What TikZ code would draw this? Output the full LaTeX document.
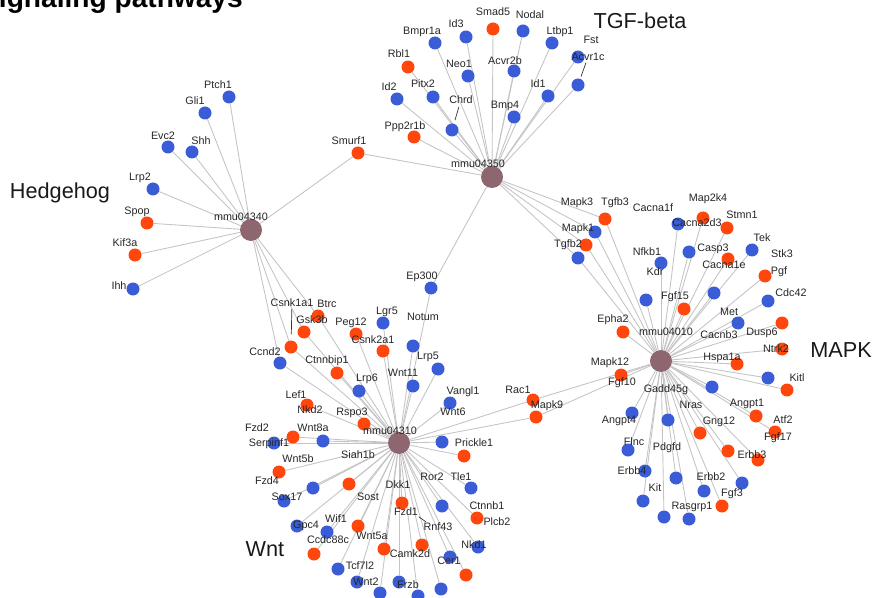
\documentclass[tikz,border=0pt]{standalone}
\usepackage{fontspec}
\setmainfont{Liberation Sans}
\usetikzlibrary{backgrounds}

\definecolor{bl}{RGB}{58,92,214}
\definecolor{rd}{RGB}{255,70,12}
\definecolor{hubcol}{RGB}{142,102,112}
\definecolor{edgegray}{RGB}{196,196,196}

\tikzset{
  hub/.style={circle, fill=hubcol, minimum size=0.66cm, inner sep=0pt},
  gene/.style={circle, minimum size=0.39cm, inner sep=0pt},
  lbl/.style={font=\fontsize{9.2}{10}\selectfont, text=black!85, inner sep=0.5pt},
  pathway/.style={font=\fontsize{18.5}{20}\selectfont, text=black!90, inner sep=0pt},
  headline/.style={font=\fontsize{24}{26}\bfseries\selectfont, inner sep=0pt, anchor=base west},
  link/.style={draw=edgegray, line width=0.75pt},
  lead/.style={draw=black!80, line width=0.6pt}
}

% name/x/y/colour/label x/label y
\def\hedgehog{Ptch1/229/97/bl/218/85, Gli1/205/113/bl/195/101, Evc2/168/147/bl/163/136,
  Shh/192/152/bl/201/141, Lrp2/153/189/bl/140/178, Spop/147/223/rd/137/212,
  Kif3a/135/255/rd/125/243, Ihh/133/289/bl/119/286, Smurf1/358/153/rd/349/141}
\def\tgfbeta{Smad5/493/29/rd/493/12, Nodal/523/31/bl/530/15, Id3/466/37/bl/456/24,
  Bmpr1a/435/43/bl/422/32, Ltbp1/552/43/bl/560/32, Fst/578/57/bl/591/40,
  Acvr1c/578/85/bl/588/57, Rbl1/408/67/rd/399/54, Neo1/468/76/bl/459/64,
  Acvr2b/514/71/bl/505/61, Id2/397/99/bl/389/87, Pitx2/433/97/bl/423/84,
  Id1/548/96/bl/538/84, Chrd/452/130/bl/461/100, Bmp4/514/117/bl/505/106,
  Ppp2r1b/414/137/rd/405/127, Ep300/431/288/bl/422/277}
\def\mapk{Tgfb3/605/219/rd/615/203, Mapk1/595/232/bl/578/229, Tgfb2/586/245/rd/568/245,
  Mapk3/578/258/bl/577/203, Cacna1f/678/224/bl/653/208, Map2k4/703/218/rd/708/199,
  Stmn1/727/228/rd/742/215, Nfkb1/661/263/bl/647/252, Cacna2d3/689/252/bl/697/223,
  Casp3/728/259/rd/713/249, Tek/752/250/bl/762/238, Pgf/765/276/rd/779/272,
  Cacna1e/714/293/bl/724/265, Kdr/646/300/bl/655/272, Fgf15/684/309/rd/675/297,
  Cdc42/768/301/bl/791/293, Epha2/623/332/rd/613/320, Met/738/323/bl/729/312,
  Dusp6/782/323/rd/762/333, Ntrk2/782/349/rd/776/349, Hspa1a/737/364/rd/722/358,
  Mapk12/621/375/rd/610/363, Cacnb3/712/387/bl/719/335, Stk3/768/378/bl/782/254,
  Kitl/787/390/rd/797/378, Angpt4/632/413/bl/619/421, Gadd45g/668/420/bl/666/390,
  Angpt1/756/416/rd/747/404, Gng12/700/433/rd/719/422, Atf2/775/432/rd/783/420,
  Flnc/628/450/bl/634/442, Fgf17/728/451/rd/778/438, Erbb3/758/460/rd/752/455,
  Erbb4/645/471/bl/632/471, Pdgfd/676/478/bl/667/448, Nras/742/483/bl/691/405,
  Erbb2/704/491/bl/711/477, Kit/643/501/bl/655/488, Fgf3/722/506/rd/732/494,
  Fgf10/664/517/bl/622/383, Rasgrp1/689/519/bl/692/507,
  Rac1/533/400/rd/518/390, Mapk9/536/417/rd/547/406}
\def\wnt{Btrc/318/316/rd/327/304, Gsk3b/304/332/rd/312/320, Csnk1a1/291/347/rd/292/303,
  Ccnd2/280/363/bl/265/352, Ctnnbip1/337/373/rd/327/361, Peg12/356/334/rd/351/323,
  Csnk2a1/383/351/rd/373/340, Lgr5/383/323/bl/387/312, Lrp6/359/391/bl/367/379,
  Wnt11/413/386/bl/403/373, Notum/413/346/bl/423/317, Lrp5/438/369/bl/428/357,
  Lef1/307/405/rd/296/395, Rspo3/364/424/rd/352/413, Nkd2/293/437/rd/310/410,
  Serpinf1/274/443/bl/269/444, Wnt8a/323/441/bl/313/428, Fzd4/279/472/rd/267/481,
  Siah1b/349/484/rd/358/455, Wnt5b/313/488/bl/298/459, Sox17/284/501/bl/287/497,
  Dkk1/402/503/rd/398/485, Gpc4/297/526/bl/306/526, Wif1/327/532/bl/336/519,
  Sost/358/526/rd/368/497, Wnt5a/384/549/rd/372/536, Fzd1/422/545/rd/406/512,
  Ccdc88c/314/554/rd/328/540, Tcf7l2/338/569/bl/360/566, Wnt2/357/582/bl/366/582,
  Frzb/399/582/bl/408/585, Fzd2/380/593/bl/257/428, Camk2d/418/596/bl/410/554,
  Vangl1/450/403/bl/463/392, Wnt6/442/442/bl/453/412, Prickle1/464/456/rd/474/443,
  Tle1/471/488/bl/461/477, Ror2/442/506/bl/432/477, Ctnnb1/477/518/rd/487/506,
  Nkd1/478/547/bl/474/545, Cer1/450/557/bl/449/561, Plcb2/466/575/rd/497/522,
  Rnf43/441/589/bl/438/527}

\begin{document}
\begin{tikzpicture}[x=0.03cm, y=-0.03cm]
  \useasboundingbox (0,0) rectangle (877,598);
  \clip (0,0) rectangle (877,598);

  \node[headline] (title) at (-20,8) {Signaling pathways};

  % pathway hubs
  \node[hub] (mmu04340) at (251,230) {};
  \node[hub] (mmu04350) at (492,177) {};
  \node[hub] (mmu04310) at (399,443) {};
  \node[hub] (mmu04010) at (661,361) {};

  % genes
  \foreach \n/\x/\y/\c/\lx/\ly in \hedgehog {\node[gene, fill=\c] (\n) at (\x,\y) {};}
  \foreach \n/\x/\y/\c/\lx/\ly in \tgfbeta {\node[gene, fill=\c] (\n) at (\x,\y) {};}
  \foreach \n/\x/\y/\c/\lx/\ly in \mapk {\node[gene, fill=\c] (\n) at (\x,\y) {};}
  \foreach \n/\x/\y/\c/\lx/\ly in \wnt {\node[gene, fill=\c] (\n) at (\x,\y) {};}

  % gene labels
  \foreach \n/\x/\y/\c/\lx/\ly in \hedgehog {\node[lbl] (\n-t) at (\lx,\ly) {\n};}
  \foreach \n/\x/\y/\c/\lx/\ly in \tgfbeta {\node[lbl] (\n-t) at (\lx,\ly) {\n};}
  \foreach \n/\x/\y/\c/\lx/\ly in \mapk {\node[lbl] (\n-t) at (\lx,\ly) {\n};}
  \foreach \n/\x/\y/\c/\lx/\ly in \wnt {\node[lbl] (\n-t) at (\lx,\ly) {\n};}

  \node[lbl] (mmu04340-t) at (241,217) {mmu04340};
  \node[lbl] (mmu04350-t) at (478,164) {mmu04350};
  \node[lbl] (mmu04310-t) at (390,431) {mmu04310};
  \node[lbl] (mmu04010-t) at (666,332) {mmu04010};

  % leader lines
  \draw[lead, shorten <=2pt, shorten >=3pt] (Chrd-t) -- (Chrd);
  \draw[lead, shorten <=1pt, shorten >=2pt] (Acvr1c-t) -- (Acvr1c);
  \draw[lead, shorten <=1pt, shorten >=5pt] (Csnk1a1-t) -- (Csnk1a1);
  \draw[lead] (Fzd1-t.south east) -- ++(7,5);

  % pathway names
  \node[pathway] (hh) at (60,193) {Hedgehog};
  \node[pathway] (tgf) at (640,21) {TGF-beta};
  \node[pathway] (mk) at (841,350) {MAPK};
  \node[pathway] (wn) at (265,549) {Wnt};

  \begin{pgfonlayer}{background}
    \foreach \n in {Ptch1,Gli1,Evc2,Shh,Lrp2,Spop,Kif3a,Ihh,Smurf1,Btrc,Gsk3b,Csnk1a1,Ccnd2}
      \draw[link] (mmu04340) -- (\n);
    \foreach \n/\x/\y/\c/\lx/\ly in \tgfbeta
      \draw[link] (mmu04350) -- (\n);
    \foreach \n in {Smurf1,Tgfb3,Mapk1,Tgfb2,Mapk3}
      \draw[link] (mmu04350) -- (\n);
    \foreach \n/\x/\y/\c/\lx/\ly in \wnt
      \draw[link] (mmu04310) -- (\n);
    \foreach \n in {Rac1,Mapk9,Ep300}
      \draw[link] (mmu04310) -- (\n);
    \foreach \n/\x/\y/\c/\lx/\ly in \mapk
      \draw[link] (mmu04010) -- (\n);
  \end{pgfonlayer}
\end{tikzpicture}
\end{document}
